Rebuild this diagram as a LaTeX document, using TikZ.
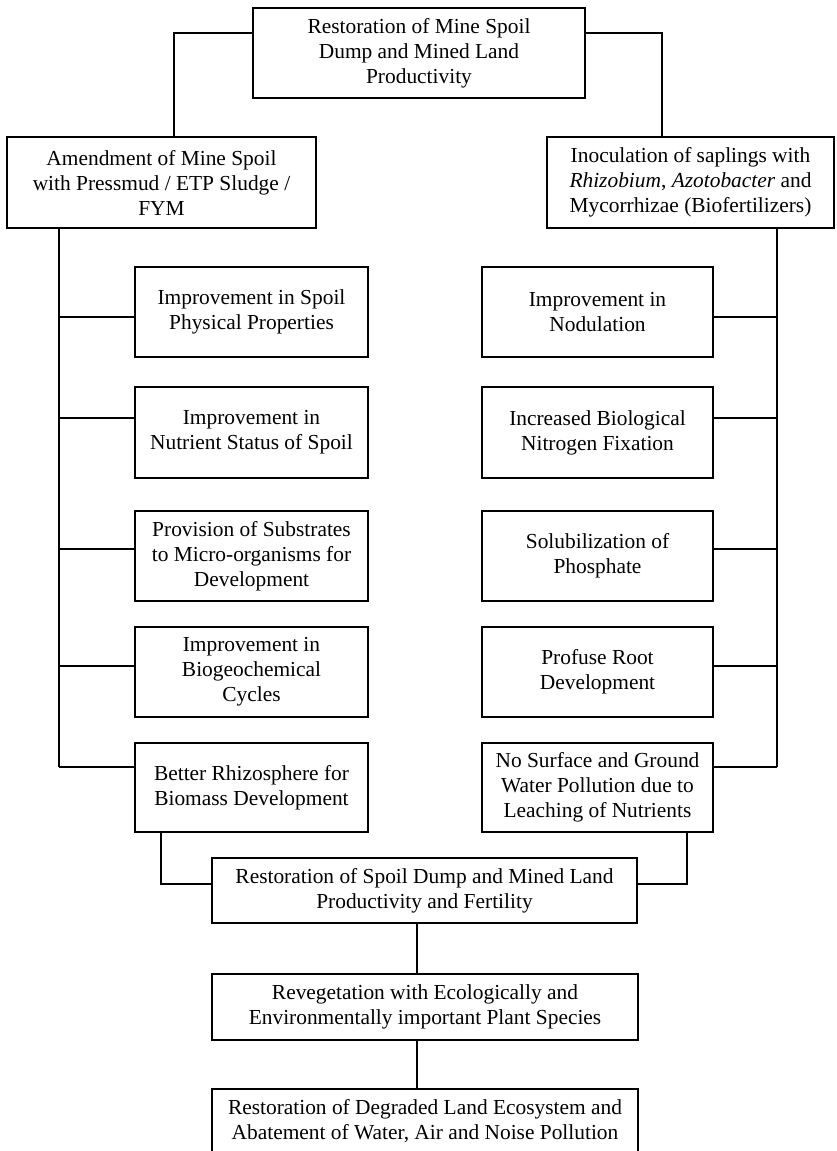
\documentclass[tikz,border=0pt]{standalone}
\usepackage{fontspec}
\setmainfont{Liberation Serif}
\usetikzlibrary{positioning}

\begin{document}
\begin{tikzpicture}[
    x=1pt, y=-1pt,
    box/.style={draw, line width=1.8pt, inner sep=0pt, align=center, font=\fontsize{21.4}{25}\selectfont},
    sidebox/.style={box, minimum width=233pt, minimum height=90pt},
    wire/.style={line width=1.8pt},
    ]
    \useasboundingbox (0,0) rectangle (836,1151);
    \clip (0,0) rectangle (836,1151);

    % Top of the tree
    \node[box, minimum width=332pt, minimum height=90pt] (goal) at (419,53) {Restoration of Mine Spoil\\Dump and Mined Land\\Productivity};
    \node[box, minimum width=309pt, minimum height=91pt] (amend) at (161.5,182.5) {Amendment of Mine Spoil\\with Pressmud / ETP Sludge /\\FYM};
    \node[box, minimum width=287pt, minimum height=91pt] (inoc) at (690.5,182.5) {Inoculation of saplings with\\\emph{Rhizobium}, \emph{Azotobacter} and\\Mycorrhizae (Biofertilizers)};

    % Left column (amendment effects)
    \node[sidebox] (phys) at (251.5,312) {Improvement in Spoil\\Physical Properties};
    \node[sidebox, minimum height=91pt] (nutr) at (251.5,432.5) {Improvement in\\Nutrient Status of Spoil};
    \node[sidebox] (subs) at (251.5,556) {Provision of Substrates\\to Micro-organisms for\\Development};
    \node[sidebox] (cycl) at (251.5,672) {Improvement in\\Biogeochemical\\Cycles};
    \node[sidebox, minimum height=89pt] (rhiz) at (251.5,787.5) {Better Rhizosphere for\\Biomass Development};

    % Right column (biofertilizer effects)
    \node[sidebox, minimum width=231pt] (nodu) at (597.5,312) {Improvement in\\Nodulation};
    \node[sidebox, minimum width=231pt, minimum height=91pt] (bnf) at (597.5,432.5) {Increased Biological\\Nitrogen Fixation};
    \node[sidebox, minimum width=231pt] (phos) at (597.5,556) {Solubilization of\\Phosphate};
    \node[sidebox, minimum width=231pt] (root) at (597.5,672) {Profuse Root\\Development};
    \node[sidebox, minimum width=231pt, minimum height=89pt] (leach) at (597.5,787.5) {No Surface and Ground\\Water Pollution due to\\Leaching of Nutrients};

    % Bottom chain
    \node[box, minimum width=425pt, minimum height=65pt] (fert) at (424.5,890.5) {Restoration of Spoil Dump and Mined Land\\Productivity and Fertility};
    \node[box, minimum width=426pt, minimum height=66pt] (reveg) at (425,1007) {Revegetation with Ecologically and\\Environmentally important Plant Species};
    \node[box, minimum width=426pt, minimum height=64pt] (abate) at (425,1121) {Restoration of Degraded Land Ecosystem and\\Abatement of Water, Air and Noise Pollution};

    % Corner and tap points
    \coordinate (lcorner) at (174,33);
    \coordinate (rcorner) at (662,33);
    \coordinate (ltap1) at (59,317);
    \coordinate (ltap2) at (59,418);
    \coordinate (ltap3) at (59,549);
    \coordinate (ltap4) at (59,666);
    \coordinate (ltap5) at (59,767);
    \coordinate (rtap1) at (777,317);
    \coordinate (rtap2) at (777,418);
    \coordinate (rtap3) at (777,549);
    \coordinate (rtap4) at (777,666);
    \coordinate (rtap5) at (777,767);
    \coordinate (lfoot) at (161,884);
    \coordinate (rfoot) at (687,884);
    \coordinate (mid) at (417,0);

    % Top branches
    \draw[wire] (goal.west |- lcorner) -- (lcorner) -- (lcorner |- amend.north);
    \draw[wire] (goal.east |- rcorner) -- (rcorner) -- (rcorner |- inoc.north);

    % Spines
    \draw[wire] (amend.south -| ltap5) -- (ltap5);
    \draw[wire] (inoc.south -| rtap5) -- (rtap5);

    % Taps to the side boxes
    \draw[wire] (ltap1) -- (ltap1 -| phys.west);
    \draw[wire] (ltap2) -- (ltap2 -| nutr.west);
    \draw[wire] (ltap3) -- (ltap3 -| subs.west);
    \draw[wire] (ltap4) -- (ltap4 -| cycl.west);
    \draw[wire] (ltap5) -- (ltap5 -| rhiz.west);
    \draw[wire] (rtap1) -- (rtap1 -| nodu.east);
    \draw[wire] (rtap2) -- (rtap2 -| bnf.east);
    \draw[wire] (rtap3) -- (rtap3 -| phos.east);
    \draw[wire] (rtap4) -- (rtap4 -| root.east);
    \draw[wire] (rtap5) -- (rtap5 -| leach.east);

    % Into the fertility box
    \draw[wire] (rhiz.south -| lfoot) -- (lfoot) -- (lfoot -| fert.west);
    \draw[wire] (leach.south -| rfoot) -- (rfoot) -- (rfoot -| fert.east);

    % Down the chain
    \draw[wire] (fert.south -| mid) -- (reveg.north -| mid);
    \draw[wire] (reveg.south -| mid) -- (abate.north -| mid);
\end{tikzpicture}
\end{document}
